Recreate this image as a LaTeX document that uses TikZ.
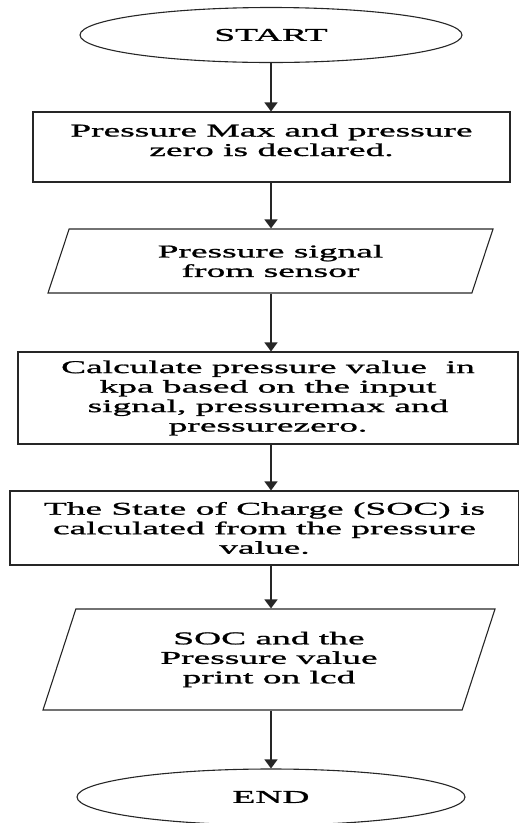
\documentclass[tikz,border=0pt]{standalone}
\usepackage{fontspec}
\setmainfont{Liberation Serif}[FakeStretch=2.08,FakeBold=1.2]
\usetikzlibrary{shapes.geometric,arrows.meta}

\begin{document}
\begin{tikzpicture}[x=1pt,y=-1pt,
    font=\fontsize{18}{19.5}\selectfont,
    terminal/.style={ellipse, draw=black!85, line width=1.1pt, inner sep=0pt},
    procbox/.style={rectangle, draw=black!85, line width=1.1pt, align=center, inner sep=0pt},
    iobox/.style={trapezium, trapezium stretches body, draw=black!85, line width=1.1pt, align=center, inner sep=0pt},
    flow/.style={-{Triangle[width=13pt,length=9pt]}, line width=1.6pt, black!85}]
    \useasboundingbox (0,0) rectangle (519,823);
    % shapes
    \node[terminal, minimum width=382pt, minimum height=55pt] (start) at (271,35) {START};
    \node[procbox, minimum width=477pt, minimum height=70pt, text depth=14pt] (decl) at (271.5,147)
        {Pressure Max and pressure\\zero is declared.};
    \node[iobox, trapezium left angle=56.7, trapezium right angle=123.3,
        minimum width=445pt, minimum height=64pt] (sig) at (270.5,261)
        {Pressure signal\\from sensor};
    \node[procbox, minimum width=500pt, minimum height=92pt] (calc) at (268,398)
        {Calculate pressure value \ in\\kpa based on the input\\signal, pressuremax and\\pressurezero.};
    \node[procbox, minimum width=509pt, minimum height=74pt] (soc) at (264.5,528)
        {The State of Charge (SOC) is\\calculated from the pressure\\value.};
    \node[iobox, trapezium left angle=59.3, trapezium right angle=120.7,
        minimum width=452pt, minimum height=101pt] (out) at (269,659.5)
        {SOC and the\\Pressure value\\print on lcd};
    \node[terminal, minimum width=388pt, minimum height=56pt] (stop) at (271,797) {END};
    % arrows
    \draw[flow] (start) -- (start |- decl.north);
    \draw[flow] (decl.south -| start) -- (sig.north -| start);
    \draw[flow] (sig.south -| start) -- (calc.north -| start);
    \draw[flow] (calc.south -| start) -- (soc.north -| start);
    \draw[flow] (soc.south -| start) -- (out.north -| start);
    \draw[flow] (out.south -| start) -- (stop);
\end{tikzpicture}
\end{document}
